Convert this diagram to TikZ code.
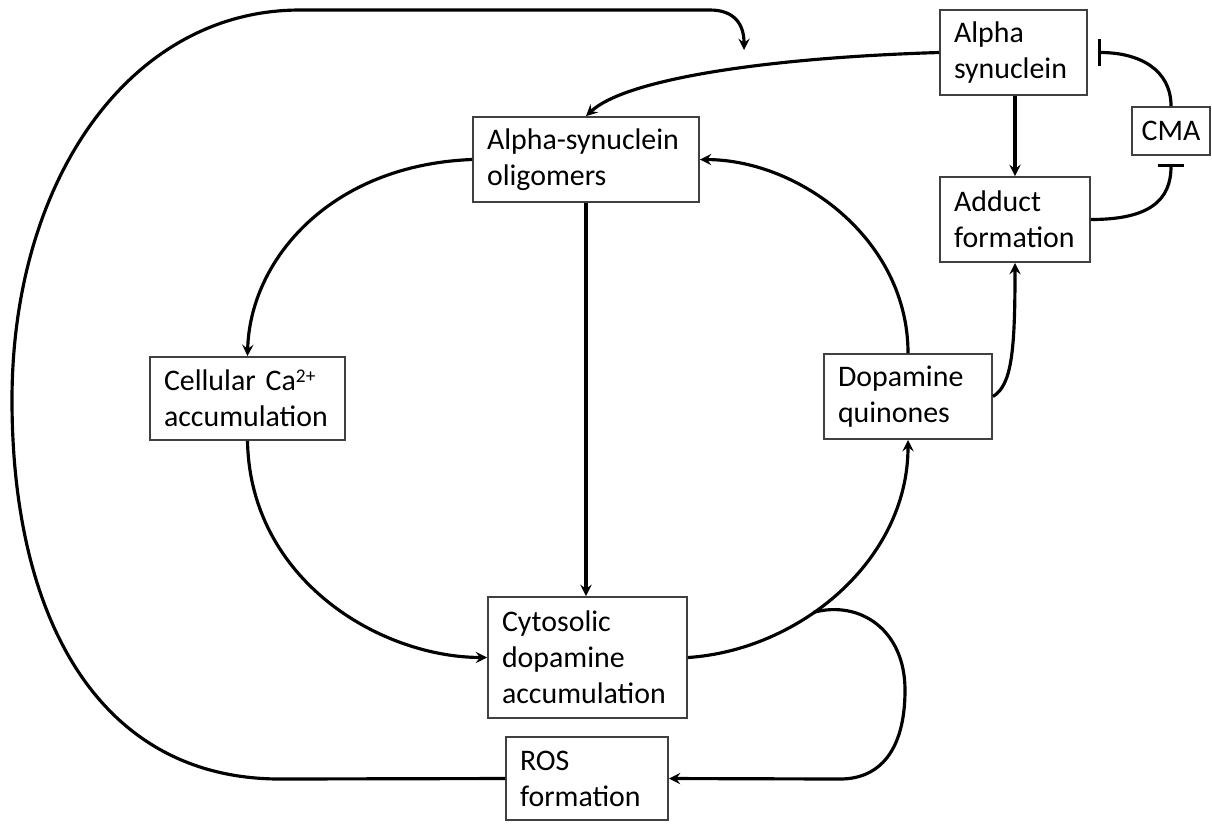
\documentclass[tikz,border=0pt]{standalone}
\usepackage{fontspec}
\setmainfont{Carlito}
\usepackage{tikz}
\usetikzlibrary{positioning}
\usetikzlibrary{arrows}
\usetikzlibrary{arrows.meta}

\begin{document}
\begin{tikzpicture}[->, >=stealth, line width=1.8pt, x=0.02cm, y=-0.02cm, font=\fontsize{17}{20.5}\selectfont]
	\tikzstyle{block}=[draw=black!75, line width=1.1pt, rectangle, fill=white, align=left, inner xsep=0.28cm, inner ysep=0pt, minimum height=1.7cm]
	\tikzstyle{inhibit}=[-{Bar[width=15pt, line width=1.8pt]}]

	\useasboundingbox (0,0) rectangle (1212,823);

	\node[block, text width=2.38cm] (asyn) at (1013.5,52.5) {Alpha\\synuclein};
	\node[block, align=center, inner xsep=0pt, minimum width=1.56cm, minimum height=0.96cm] (cma) at (1171,131) {CMA};
	\node[block, text width=2.44cm] (adduct) at (1015,219.5) {Adduct\\formation};
	\node[block, text width=3.96cm] (olig) at (586,159.5) {Alpha-synuclein\\oligomers};
	\node[block, text width=3.34cm, minimum height=1.66cm] (cell) at (247.5,398.5) {Cellular Ca\raisebox{0.55ex}{\fontsize{11}{11}\selectfont 2+}\\accumulation};
	\node[block, text width=2.80cm] (dq) at (908,396.5) {Dopamine\\quinones};
	\node[block, text width=3.42cm, minimum height=2.42cm] (cyto) at (587.5,657.5) {Cytosolic\\dopamine\\accumulation};
	\node[block, text width=2.68cm, minimum height=1.66cm] (ros) at (587,778.5) {ROS\\formation};
	\coordinate (hit) at (744,50);

	% inner cycle
	\draw (olig.west) .. controls (330,165) and (250,260) .. (cell.north);
	\draw (cell.south) .. controls (250,580) and (380,657) .. (cyto.west);
	\draw (olig.south) -- (olig.south |- cyto.north);
	\draw (cyto.east) .. controls (800,650) and (908,560) .. (dq.south) coordinate[pos=0.4] (branch);
	\draw (dq.north) .. controls (908,240) and (800,160) .. (olig.east);

	% right branch
	\draw (dq.east) .. controls (1012,385) and (1015,350) .. (adduct.south);
	\draw (asyn.south -| adduct.north) -- (adduct.north);
	\draw (asyn.west) .. controls (760,58) and (625,80) .. (olig.north);
	\draw[inhibit, shorten >=0.2cm] (cma.north) .. controls (1171,70) and (1140,52.5) .. (asyn.east);
	\draw[inhibit, shorten >=0.16cm] (adduct.east) .. controls (1150,219.5) and (1171,200) .. (cma.south);

	% ROS loops
	\draw (branch) .. controls (860,600) and (905,630) .. (905,690) .. controls (905,750) and (880,779) .. (840,779) -- (ros.east);
	\draw (ros.west) -- (280,779) .. controls (100,779) and (12,620) .. (12,400) .. controls (12,180) and (130,10) .. (300,10) -- (710,10) .. controls (735,10) and (744,25) .. (hit);
\end{tikzpicture}
\end{document}
